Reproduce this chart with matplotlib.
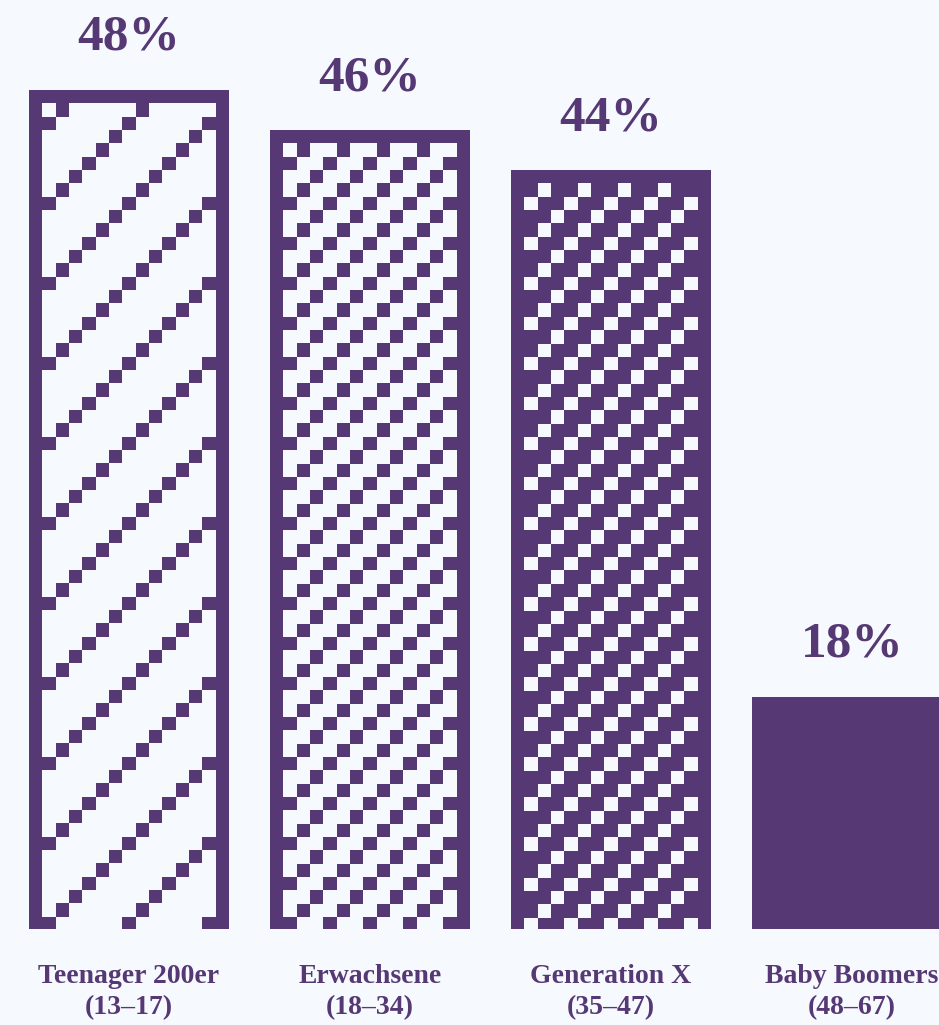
import numpy as np
import matplotlib
matplotlib.use("Agg")
import matplotlib.pyplot as plt

# data
groups = ["Teenager 200er", "Erwachsene", "Generation X", "Baby Boomers"]
ages = ["(13–17)", "(18–34)", "(35–47)", "(48–67)"]
shares = [48, 46, 44, 18]
# pattern per bar: diagonal period in cells, inverted, or solid
patterns = [(6, False), (3, False), (3, True), None]

purple = "#553874"
bg = "#f6faff"

plt.rcParams["font.family"] = ["Liberation Serif", "DejaVu Serif"]

W, H = 939, 1025
fig = plt.figure(figsize=(W / 100, H / 100), dpi=100, facecolor=bg)
bottom_px = 96
ax = fig.add_axes([0, bottom_px / H, 1, 1 - bottom_px / H])
ax.set_facecolor(bg)

slot = 241.0
bar_w = 200 / slot
x = np.arange(len(groups))
xlim = (-129 / slot, (W - 129) / slot)
ylim = (6.53, 52.45)

bars = ax.bar(x, shares, width=bar_w, color=bg, linewidth=0, zorder=1)

# pixel-cell textures laid over each bar
axes_h_px = H - bottom_px
dy_per_px = (ylim[1] - ylim[0]) / axes_h_px
cell = 200 / 15
pc = np.array(matplotlib.colors.to_rgba(purple))
bc = np.array(matplotlib.colors.to_rgba(bg))

for b, pat in zip(bars, patterns):
    if pat is None:
        b.set_facecolor(purple)
        continue
    period, inv = pat
    top = b.get_height()
    top_px = (top - ylim[0]) / dy_per_px
    nrows = int(np.ceil(top_px / cell)) + 2
    mask = np.zeros((nrows, 15), dtype=bool)
    for r in range(1, nrows):
        for c in range(15):
            hit = (c + r - 1) % period == 2
            mask[r, c] = (not hit) if inv else hit
    mask[0, :] = True
    mask[:, 0] = True
    mask[:, -1] = True
    img = np.where(mask[..., None], pc, bc)
    left = b.get_x()
    ext = (left, left + b.get_width(), top - nrows * cell * dy_per_px, top)
    ax.imshow(img, extent=ext, origin="upper", interpolation="nearest",
              aspect="auto", zorder=2)

ax.set_xlim(*xlim)
ax.set_ylim(*ylim)

for xi, v in zip(x, shares):
    ax.annotate(f"{v}%", (xi, v), xytext=(0, 29), textcoords="offset points",
                ha="center", va="baseline", fontsize=37, fontweight="bold",
                color=purple)

ax.set_xticks(x)
ax.set_xticklabels([f"{g}\n{a}" for g, a in zip(groups, ages)],
                   fontsize=20, fontweight="bold", color=purple, linespacing=1.32)
ax.tick_params(axis="x", length=0, pad=25)
ax.set_yticks([])
for s in ax.spines.values():
    s.set_visible(False)

fig.savefig("out.png", dpi=100, facecolor=bg)
